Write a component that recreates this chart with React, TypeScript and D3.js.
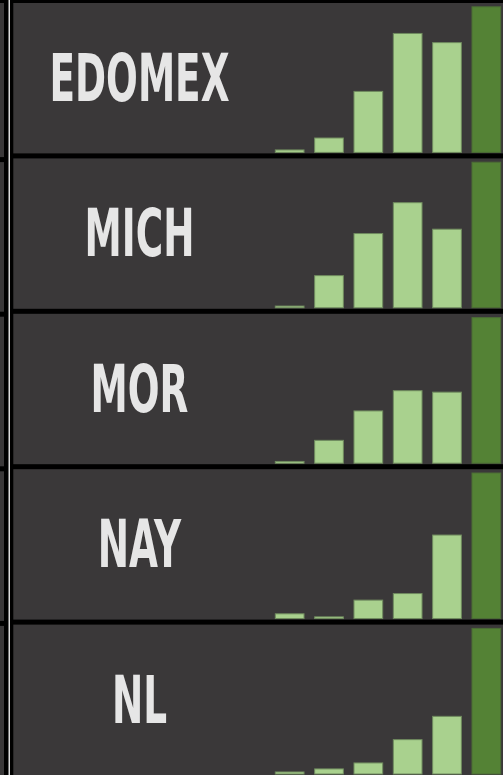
import React from "react";
import * as d3 from "d3";

const states = ["EDOMEX", "MICH", "MOR", "NAY", "NL"];
const categories = ["c1", "c2", "c3", "c4", "c5", "c6"];
const valuesEDOMEX = [1.7, 9.9, 41.9, 81.7, 75.4, 100];
const valuesMICH = [1.2, 22.1, 51.0, 72.2, 54.0, 100];
const valuesMOR = [1.2, 15.7, 35.9, 49.8, 48.8, 100];
const valuesNAY = [3.3, 1.2, 12.7, 17.2, 57.4, 100];
const valuesNL = [1.4, 3.5, 7.6, 23.6, 39.6, 100];
const seriesValues = [valuesEDOMEX, valuesMICH, valuesMOR, valuesNAY, valuesNL];

const W = 503;
const H = 775;
const BG = "#3a3839";
const LIGHT = "#a9d18e";
const DARK = "#548235";

export default function App() {
  const period = 155.4;
  const lineW = 5;
  const lineCenter = (k: number) => 0.5 + k * period;
  const x = d3.scaleBand<string>().domain(categories).range([270, 506]).paddingInner(0.27).paddingOuter(0.135);

  return (
    <svg width={W} height={H} style={{ display: "block", position: "absolute", left: 0, top: 0 }}>
      <rect x={0} y={0} width={W} height={H} fill={BG} />
      {states.map((s, k) => {
        const top = lineCenter(k) + lineW / 2;
        const bottom = lineCenter(k + 1) - lineW / 2;
        const y = d3.scaleLinear().domain([0, 100]).range([bottom - 1, top + 3.8]);
        const vals = seriesValues[k];
        return (
          <g key={s}>
            {vals.map((v, i) => (
              <rect
                key={i}
                x={x(categories[i])!}
                y={y(v)}
                width={x.bandwidth()}
                height={y(0) - y(v)}
                fill={i === vals.length - 1 ? DARK : LIGHT}
                stroke={i === vals.length - 1 ? "#4c6c36" : "#6f8a5e"}
                strokeWidth={1}
              />
            ))}
            <text
              x={0}
              y={0}
              transform={`translate(139.5, ${(top + bottom) / 2}) scale(0.63,1)`}
              textAnchor="middle"
              dominantBaseline="central"
              fill="#e6e6e6"
              fontFamily="'DejaVu Sans Condensed', 'DejaVu Sans', sans-serif"
              fontStretch="condensed"
              fontWeight="bold"
              fontSize={66}
            >
              {s}
            </text>
          </g>
        );
      })}
      {d3.range(6).map((k) => (
        <rect key={"h" + k} x={10} y={lineCenter(k) - lineW / 2} width={W} height={lineW} fill="#000" />
      ))}
      {d3.range(6).map((k) => (
        <rect key={"l" + k} x={0} y={(k === 0 ? 0.5 : 5 + k * 154.6) - lineW / 2} width={10} height={lineW} fill="#000" />
      ))}
      <rect x={4} y={0} width={9.3} height={H} fill="#000" />
      <rect x={8.5} y={0} width={1.5} height={H} fill="#dcdcdc" />
    </svg>
  );
}
